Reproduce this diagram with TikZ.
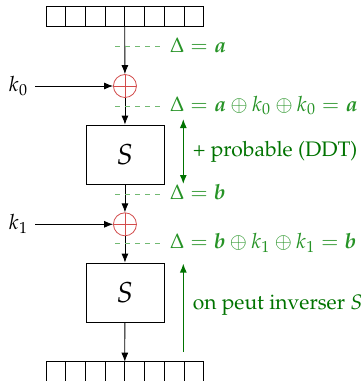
\documentclass[tikz,border=0pt]{standalone}
\usepackage[T1]{fontenc}
\usepackage{mathpazo}
\usepackage{amsmath,bm}
\usetikzlibrary{arrows.meta}
\renewcommand\normalsize{\fontsize{10.5}{12.6}\selectfont}
\colorlet{diffG}{green!45!black}
\colorlet{diffL}{green!50!black!85}
\colorlet{diffD}{green!50!black!55}
\colorlet{xorR}{red!75!black!70}
\tikzstyle{cell}=[draw=black, minimum width=9.85pt, minimum height=10pt, inner sep=0pt, outer sep=0pt]
\tikzstyle{sbox}=[draw=black, minimum width=39pt, minimum height=29.5pt, font=\Large]
\tikzstyle{xor}=[draw=xorR, circle, minimum size=11.5pt, inner sep=0pt, path picture={\draw[xorR] (path picture bounding box.north) -- (path picture bounding box.south) (path picture bounding box.west) -- (path picture bounding box.east);}]
\tikzstyle{flow}=[-{Latex[length=4.5pt,width=3.5pt]}]
\tikzstyle{diffline}=[diffD, dash pattern=on 2.5pt off 2.5pt, shorten >=3.5pt]
\tikzstyle{difftext}=[text=diffL, anchor=base west, inner sep=0pt]
\tikzstyle{note}=[text=diffG, anchor=west, inner sep=0pt]

\begin{document}
\begin{tikzpicture}[x=0.5pt, y=-0.5pt]
	\useasboundingbox (0,0) rectangle (363,381);

	% registres
	\foreach \i in {1,...,8} {
		\node[cell] (top\i) at ({36.15+\i*19.7}, 16) {};
		\node[cell] (bot\i) at ({36.15+\i*19.7}, 371.7) {};
	}

	\node[xor] (xor0) at (124.95,86) {};
	\node (k0) at (18.5,86) {$k_0$};
	\node[sbox] (s0) at (124.95,154.5) {$S$};
	\node[xor] (xor1) at (124.95,224.3) {};
	\node (k1) at (18.5,224.3) {$k_1$};
	\node[sbox] (s1) at (124.95,292.5) {$S$};

	\draw[flow] (top4.south east) -- (xor0);
	\draw[flow] (k0) -- (xor0);
	\draw[flow] (xor0) -- (s0);
	\draw[flow] (s0) -- (xor1);
	\draw[flow] (k1) -- (xor1);
	\draw[flow] (xor1) -- (s1);
	\draw[flow] (s1) -- (bot4.north east);

	% differences
	\coordinate (d0) at (115,46.5);
	\coordinate (d1) at (115,106);
	\coordinate (d2) at (115,194);
	\coordinate (d3) at (115,243);
	\node[difftext] (t0) at (169.5,52.5) {$\Delta = \bm{a}$};
	\node[difftext] (t1) at (169.5,111) {$\Delta = \bm{a} \oplus k_0 \oplus k_0 = \bm{a}$};
	\node[difftext] (t2) at (169.5,199.3) {$\Delta = \bm{b}$};
	\node[difftext] (t3) at (169.5,248.5) {$\Delta = \bm{b} \oplus k_1 \oplus k_1 = \bm{b}$};
	\draw[diffline] (d0) -- (d0 -| t0.west);
	\draw[diffline] (d1) -- (d1 -| t1.west);
	\draw[diffline] (d2) -- (d2 -| t2.west);
	\draw[diffline] (d3) -- (d3 -| t3.west);

	% remarques
	\coordinate (p0) at (183.3,119);
	\coordinate (p1) at (183.3,184);
	\coordinate (q0) at (183.3,352);
	\coordinate (q1) at (183.3,263.5);
	\draw[diffG, semithick, {Latex[length=4.5pt,width=3.5pt]}-{Latex[length=4.5pt,width=3.5pt]}] (p0) -- (p1) node[note, midway, xshift=4.5pt] (ddt) {+ probable (DDT)};
	\draw[diffG, semithick, -{Latex[length=4.5pt,width=3.5pt]}] (q0) -- (q1) node[note, pos=0.53, xshift=4.5pt] (inv) {on peut inverser $S$};
\end{tikzpicture}
\end{document}
